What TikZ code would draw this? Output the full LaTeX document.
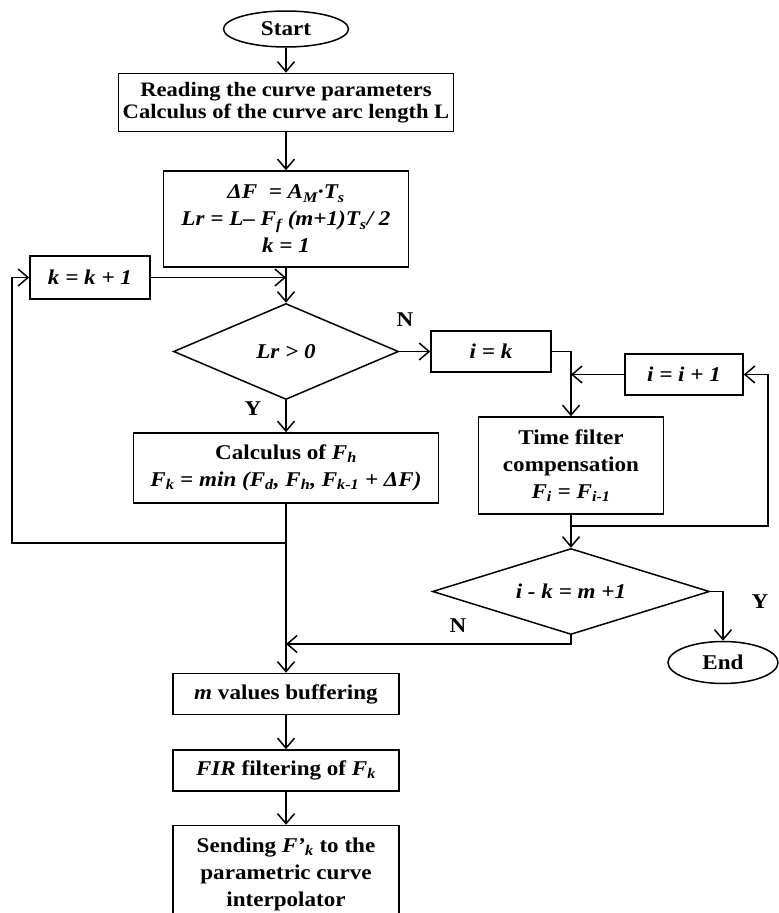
\documentclass[tikz,border=0pt]{standalone}
\usepackage{fontspec}
\setmainfont{Liberation Serif}[FakeStretch=1.1]
\usepackage{tikz}
\usetikzlibrary{arrows.meta,positioning,shapes.geometric,calc}

\begin{document}
\begin{tikzpicture}[x=1pt, y=-1pt, every node/.style={font=\fontsize{21}{27}\selectfont\bfseries}]

\tikzstyle{process} = [rectangle, draw, line width=1.5pt, text centered, align=center, inner sep=3pt]
\tikzstyle{decision} = [diamond, draw, line width=1.5pt, inner sep=0pt, aspect=2.3]
\tikzstyle{terminal} = [ellipse, draw, line width=1.5pt, inner sep=2pt]
\tikzstyle{arrow} = [line width=1.5pt, ->, >={Straight Barb[length=10pt,width=17pt]}]

\useasboundingbox (0,0) rectangle (779,913);

% Main column
\node[terminal, minimum width=125pt, minimum height=36pt] (start) at (286,29) {Start};
\node[process, minimum width=335pt, minimum height=58pt, below=25pt of start, font=\fontsize{20.5}{22}\selectfont\bfseries] (read) {Reading the curve parameters\\Calculus of the curve arc length L};
\node[process, minimum width=245pt, minimum height=96pt, below=38pt of read] (init) {\textit{ΔF \ = A\textsubscript{M}·T\textsubscript{s}}\\\textit{Lr = L– F\textsubscript{f} (m+1)T\textsubscript{s}/ 2}\\\textit{k = 1}};
\node[decision, minimum width=225pt, minimum height=96pt, below=35pt of init] (test) {\textit{Lr > 0}};
\node[process, minimum width=305pt, minimum height=70pt, below=32pt of test] (calc) {Calculus of \textit{F\textsubscript{h}}\\\textit{F\textsubscript{k} = min (F\textsubscript{d}, F\textsubscript{h}, F\textsubscript{k-1} + ΔF)}};
\node[process, minimum width=226pt, minimum height=41pt, below=169pt of calc] (buf) {\textit{m} values buffering};
\node[process, minimum width=226pt, minimum height=41pt, below=34pt of buf] (fir) {\textit{FIR} filtering of \textit{F\textsubscript{k}}};
\node[process, minimum width=226pt, minimum height=97pt, below=33pt of fir] (send) {Sending \textit{F’\textsubscript{k}} to the\\parametric curve\\interpolator};

% Loop on k
\node[process, minimum width=120pt, minimum height=43pt] (kinc) at (90,277.5) {\textit{k = k + 1}};

% Compensation branch
\node[process, minimum width=120pt, minimum height=41pt, right=31pt of test] (ik) {\textit{i = k}};
\node[process, minimum width=118pt, minimum height=41pt] (iinc) at (684,374.5) {\textit{i = i + 1}};
\node[process, minimum width=185pt, minimum height=97pt] (comp) at (571,465.5) {Time filter\\compensation\\\textit{F\textsubscript{i} = F\textsubscript{i-1}}};
\node[decision, minimum width=277pt, minimum height=86pt, below=33pt of comp] (test2) {\textit{i - k = m +1}};
\node[terminal, minimum width=110pt, minimum height=42pt] (stop) at (723,662.5) {End};

% Junctions
\coordinate (jk) at (kinc -| init.south);
\coordinate (jloop) at ($(calc.south)+(0,39)$);
\coordinate (jleft) at (12,277.5);
\coordinate (jcomp) at ($(comp.south)+(0,11)$);
\coordinate (jright) at (768,374.5);
\coordinate (jno) at (286,644);

% Arrows
\draw[arrow] (start) -- (read);
\draw[arrow] (read) -- (init);
\draw[arrow] (init) -- (test);
\draw[arrow] (kinc) -- (jk);
\draw[arrow] (test) -- (calc);
\draw[arrow] (calc) -- (buf);
\draw[arrow] (jloop) -| (jleft) -- (kinc);
\draw[arrow] (test) -- (ik);
\draw[arrow] (ik) -| (comp);
\draw[arrow] (iinc) -- (iinc -| comp.north);
\draw[arrow] (comp) -- (test2);
\draw[arrow] (jcomp) -| (jright) -- (iinc);
\draw[arrow] (test2) -| (stop);
\draw[arrow] (test2) |- (jno);
\draw[arrow] (buf) -- (fir);
\draw[arrow] (fir) -- (send);

% Labels
\node (yes1) at (253,409) {Y};
\node (no1) at (405,320) {N};
\node (yes2) at (760,602) {Y};
\node (no2) at (458,626) {N};

\end{tikzpicture}
\end{document}
